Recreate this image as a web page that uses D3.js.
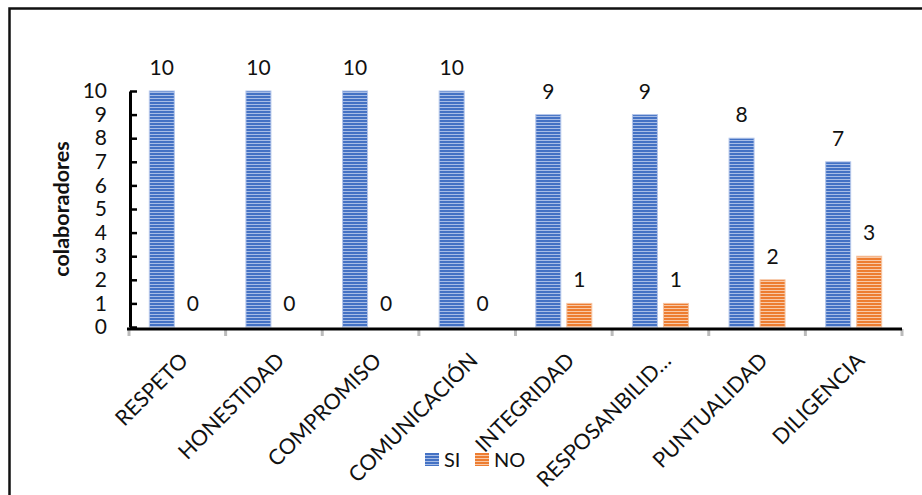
<!DOCTYPE html>
<html>
<head>
<meta charset="utf-8">
<script src="https://cdn.jsdelivr.net/npm/d3@7"></script>
<style>
  html, body { margin: 0; padding: 0; background: #fff; }
  svg { display: block; font-family: Lato, "Open Sans", sans-serif; }
</style>
</head>
<body>
<svg id="chart" width="922" height="495"></svg>
<script>
// Values per category
const categories = ["RESPETO", "HONESTIDAD", "COMPROMISO", "COMUNICACIÓN",
                    "INTEGRIDAD", "RESPOSANBILID…", "PUNTUALIDAD", "DILIGENCIA"];
const seriesNames = ["SI", "NO"];
const siValues = [10, 10, 10, 10, 9, 9, 8, 7];
const noValues = [0, 0, 0, 0, 1, 1, 2, 3];
const yTicks = [0, 1, 2, 3, 4, 5, 6, 7, 8, 9, 10];
const yTitle = "colaboradores";

const colors = {
  SI: { base: "#4472C4", light: "#a8bde6", edge: "#b4c6ea" },
  NO: { base: "#ED7D31", light: "#f8c9a8", edge: "#f6c4a1" }
};

const svg = d3.select("#chart");
const plot = { left: 129, right: 902, top: 91, bottom: 327 };

// Striped fills for the bars
const defs = svg.append("defs");
seriesNames.forEach(s => {
  const p = defs.append("pattern")
    .attr("id", "stripe-" + s)
    .attr("patternUnits", "userSpaceOnUse")
    .attr("width", 6).attr("height", 3);
  p.append("rect").attr("width", 6).attr("height", 3).attr("fill", colors[s].base);
  p.append("rect").attr("y", 2).attr("width", 6).attr("height", 1).attr("fill", colors[s].light);
});

// Outer frame
svg.append("rect")
  .attr("x", 9.5).attr("y", 8.5)
  .attr("width", 930).attr("height", 500)
  .attr("fill", "none").attr("stroke", "#111").attr("stroke-width", 2.5);

const x = d3.scaleBand().domain(categories).range([plot.left, plot.right]).paddingInner(0).paddingOuter(0);
const xs = d3.scaleBand().domain(seriesNames).range([0, x.bandwidth()]).paddingInner(0.194).paddingOuter(0.655);
const y = d3.scaleLinear().domain([0, 10]).range([plot.bottom, plot.top]);

const rows = categories.map((c, i) => ({ cat: c, SI: siValues[i], NO: noValues[i] }));

// Bars
const groups = svg.append("g").selectAll("g")
  .data(rows).join("g")
  .attr("transform", d => `translate(${x(d.cat)},0)`);

groups.selectAll("rect")
  .data(d => seriesNames.map(s => ({ s, v: d[s] })))
  .join("rect")
  .attr("x", d => xs(d.s))
  .attr("y", d => y(d.v))
  .attr("width", xs.bandwidth())
  .attr("height", d => y(0) - y(d.v))
  .attr("fill", d => `url(#stripe-${d.s})`)
  .attr("stroke", d => colors[d.s].edge)
  .attr("stroke-width", d => d.v > 0 ? 1 : 0);

// Value labels
groups.selectAll("text")
  .data(d => seriesNames.map(s => ({ s, v: d[s] })))
  .join("text")
  .attr("x", d => xs(d.s) + xs.bandwidth() / 2)
  .attr("y", d => y(d.v) - 16)
  .attr("text-anchor", "middle")
  .attr("font-size", 21)
  .attr("fill", "#111")
  .text(d => d.v);

// Y axis with inward ticks
const yAxis = svg.append("g")
  .attr("transform", `translate(${plot.left + 1},0)`)
  .call(d3.axisLeft(y).tickValues(yTicks).tickSize(-7).tickPadding(23).tickSizeOuter(0));
yAxis.select(".domain").attr("stroke", "#000").attr("stroke-width", 3);
yAxis.selectAll(".tick line").attr("stroke", "#000").attr("stroke-width", 2.5);
yAxis.selectAll(".tick text").attr("font-size", 21).attr("fill", "#111")
  .attr("font-family", "Lato, sans-serif");

// X axis
const xAxis = svg.append("g")
  .attr("transform", `translate(0,${plot.bottom + 2})`);
xAxis.selectAll("line.tick")
  .data(categories.concat(["end"]))
  .join("line")
  .attr("class", "tick")
  .attr("x1", (d, i) => plot.left + i * x.step())
  .attr("x2", (d, i) => plot.left + i * x.step())
  .attr("y1", 0).attr("y2", 7)
  .attr("stroke", "#bbb").attr("stroke-width", 3);
xAxis.append("line")
  .attr("x1", plot.left - 2).attr("x2", plot.right)
  .attr("y1", 0).attr("y2", 0)
  .attr("stroke", "#000").attr("stroke-width", 3);

xAxis.selectAll("text")
  .data(categories)
  .join("text")
  .attr("transform", d => `translate(${x(d) + x.bandwidth() / 2 + 12},${33}) rotate(-45)`)
  .attr("text-anchor", "end")
  .attr("font-size", 21.5)
  .attr("fill", "#111")
  .text(d => d);

// Y axis title
svg.append("text")
  .attr("transform", `translate(69,${(plot.top + plot.bottom) / 2}) rotate(-90)`)
  .attr("text-anchor", "middle")
  .attr("font-size", 21.5)
  .attr("font-weight", "bold")
  .attr("fill", "#111")
  .text(yTitle);

// Legend
const legend = svg.append("g").attr("transform", "translate(425,453)");
const legendItems = [{ s: "SI", x: 0 }, { s: "NO", x: 50 }];
legendItems.forEach(item => {
  legend.append("rect")
    .attr("x", item.x).attr("y", 0)
    .attr("width", 14).attr("height", 13)
    .attr("fill", `url(#stripe-${item.s})`);
  legend.append("text")
    .attr("x", item.x + 19).attr("y", 14)
    .attr("font-size", 20)
    .attr("fill", "#111")
    .text(item.s);
});
</script>
</body>
</html>
